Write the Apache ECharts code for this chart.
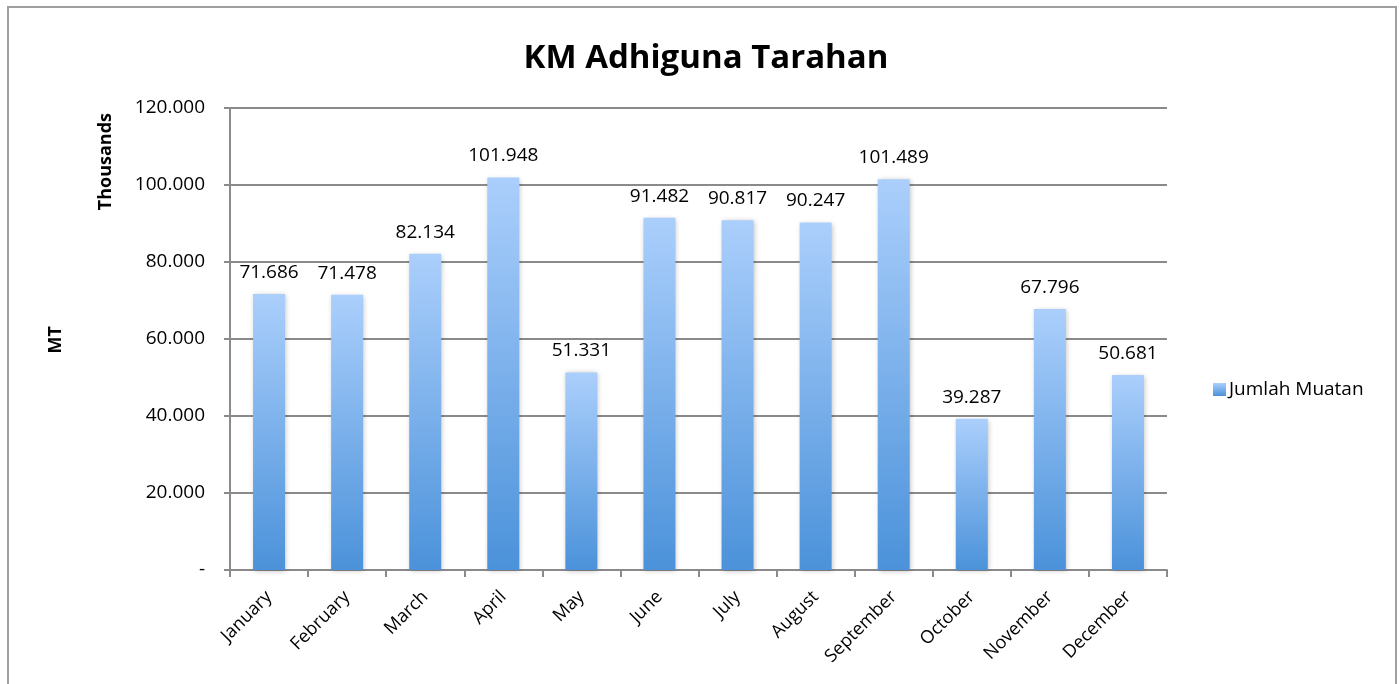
<!DOCTYPE html>
<html>
<head>
<meta charset="utf-8">
<script src="https://cdn.jsdelivr.net/npm/echarts@6/dist/echarts.min.js"></script>
<style>
  html, body { margin: 0; padding: 0; background: #fff; }
  #chart { width: 1400px; height: 684px; }
</style>
</head>
<body>
<div id="chart"></div>
<script>
// data (MT)
const months = ['January', 'February', 'March', 'April', 'May', 'June',
  'July', 'August', 'September', 'October', 'November', 'December']
const jumlahMuatan = [71686, 71478, 82134, 101948, 51331, 91482,
  90817, 90247, 101489, 39287, 67796, 50681]
const seriesName = 'Jumlah Muatan'

const FONT = '"Open Sans", "Noto Sans", sans-serif'

// 71686 -> "71.686", 0 -> "-"
function fmt(v) {
  if (!v) return '-'
  return Math.round(v).toString().replace(/\B(?=(\d{3})+(?!\d))/g, '.')
}

const barColor = new echarts.graphic.LinearGradient(0, 0, 0, 1, [
  { offset: 0, color: '#abcffc' },
  { offset: 1, color: '#4b92da' }
])

const chart = echarts.init(document.getElementById('chart'))
chart.setOption({
  animation: false,
  backgroundColor: '#fff',
  title: {
    text: 'KM Adhiguna Tarahan',
    left: 701, top: 37, textAlign: 'center',
    textStyle: { fontFamily: FONT, fontSize: 33, fontWeight: 'bold', color: '#000' }
  },
  legend: {
    data: [seriesName],
    orient: 'vertical',
    left: 1208, top: 375,
    itemWidth: 13, itemHeight: 13, itemGap: 4,
    icon: 'rect',
    textStyle: { fontFamily: FONT, fontSize: 19, color: '#000', padding: [0, 0, 0, -2] }
  },
  grid: { left: 230, right: 233, top: 108, bottom: 114, containLabel: false },
  xAxis: {
    type: 'category',
    data: months,
    axisLine: { lineStyle: { color: '#8a8a8a', width: 2 } },
    axisTick: { show: true, length: 7, alignWithLabel: false, lineStyle: { color: '#8a8a8a', width: 2 } },
    axisLabel: {
      rotate: 45, interval: 0, margin: 24,
      fontFamily: FONT, fontSize: 18, color: '#000'
    }
  },
  yAxis: {
    type: 'value',
    min: 0, max: 120000, interval: 20000,
    axisLine: { show: true, lineStyle: { color: '#8a8a8a', width: 2 } },
    axisTick: { show: true, length: 6, lineStyle: { color: '#8a8a8a', width: 2 } },
    splitLine: { lineStyle: { color: '#8a8a8a', width: 2 } },
    axisLabel: {
      margin: 25, fontFamily: FONT, fontSize: 19, color: '#000',
      formatter: fmt
    }
  },
  graphic: [
    {
      type: 'rect', silent: true,
      shape: { x: 8, y: 7, width: 1388, height: 700 },
      style: { fill: 'none', stroke: '#a0a0a0', lineWidth: 2 }
    },
    {
      type: 'text', silent: true,
      left: 97, top: 113, rotation: Math.PI / 2,
      style: { text: 'Thousands', fontFamily: FONT, fontSize: 18, fontWeight: 'bold', fill: '#000' }
    },
    {
      type: 'text', silent: true,
      left: 47, top: 326, rotation: Math.PI / 2,
      style: { text: 'MT', fontFamily: FONT, fontSize: 18, fontWeight: 'bold', fill: '#000' }
    }
  ],
  series: [{
    name: seriesName,
    type: 'bar',
    data: jumlahMuatan,
    barWidth: 32,
    itemStyle: {
      color: barColor,
      shadowColor: 'rgba(0,0,0,0.25)',
      shadowBlur: 5,
      shadowOffsetX: 1,
      shadowOffsetY: 1
    },
    label: {
      show: true, position: 'top', distance: 12,
      fontFamily: FONT, fontSize: 19, color: '#000',
      formatter: p => fmt(p.value)
    }
  }]
})
</script>
</body>
</html>
